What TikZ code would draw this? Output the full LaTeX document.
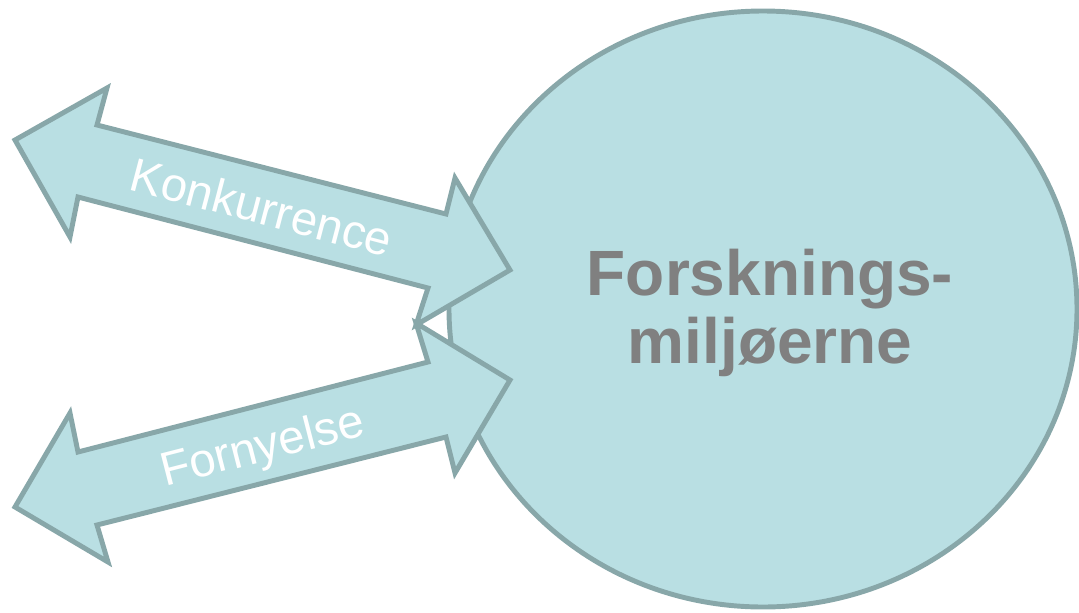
\documentclass[tikz,border=0pt]{standalone}
\usepackage{fontspec}
\setmainfont{Liberation Sans}
\usetikzlibrary{shapes.geometric}
\definecolor{fillc}{HTML}{B9DFE3}
\definecolor{edgec}{HTML}{88A7A9}
\definecolor{txtgray}{HTML}{808080}
\begin{document}
\begin{tikzpicture}[x=0.75pt,y=-0.75pt,
  shapestyle/.style={fill=fillc,draw=edgec,line width=3.7pt,line join=miter},
  arrowtext/.style={text=white,font=\fontsize{35.5}{40}\selectfont,inner sep=0pt},
  centertext/.style={text=txtgray,font=\bfseries\fontsize{48}{51}\selectfont,align=center,inner sep=0pt}]
\useasboundingbox (0,0) rectangle (1079,612);
% environment ellipse
\node[shapestyle,ellipse,minimum width=628*0.75pt,minimum height=596*0.75pt,inner sep=0pt] (env) at (763,309) {};
% top double arrow
\draw[shapestyle] (15,140) -- (107,88) -- (97,125) -- (446,214) -- (455,178) -- (510,270)
  -- (416,325) -- (428,288) -- (78,197) -- (70,237) -- cycle;
% bottom double arrow
\draw[shapestyle] (510,380) -- (416,323) -- (428,362) -- (78,452) -- (70,413) -- (15,507)
  -- (108,562) -- (97,525) -- (446,437) -- (455,473) -- cycle;
\node[arrowtext,rotate=-14.7] (konk) at (262,207) {Konkurrence};
\node[arrowtext,rotate=14.4] (forn) at (263,449) {Fornyelse};
\node[centertext] (label) at (770,313) {Forsknings-\\miljøerne};
\end{tikzpicture}
\end{document}
